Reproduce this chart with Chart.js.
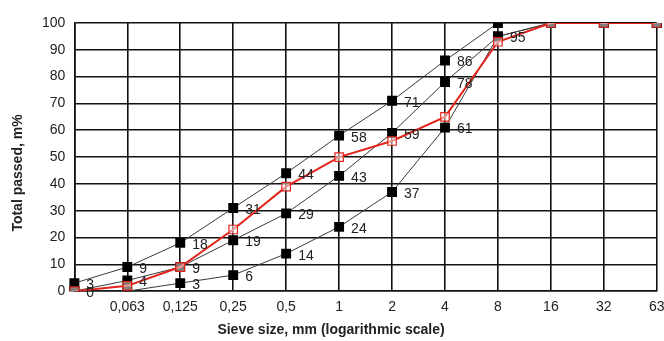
<!DOCTYPE html>
<html>
<head>
<meta charset="utf-8">
<script src="https://cdn.jsdelivr.net/npm/chart.js@4"></script>
<style>
  html, body { margin: 0; padding: 0; background: #fff; }
  #wrap { width: 664px; height: 341px; position: relative; }
</style>
</head>
<body>
<div id="wrap"><canvas id="chartCanvas"></canvas></div>
<script>
// sieve sizes, mm (first one is the pan, no label)
const sieves = ['', '0,063', '0,125', '0,25', '0,5', '1', '2', '4', '8', '16', '32', '63'];

// grading envelope, total passed %
const upperLimit = [3, 9, 18, 31, 44, 58, 71, 86, 100, 100, 100, 100];
const middleLine = [0, 4, 9, 19, 29, 43, 59, 78, 95, 100, 100, 100];
const lowerLimit = [0, 0, 3, 6, 14, 24, 37, 61, 95, 100, 100, 100];
const mixture    = [0, 2, 9, 23, 39, 50, 56, 65, 93, 100, 100, 100];

// which values get a text label next to the point
const upperLabels  = ['3', '9', '18', '31', '44', '58', '71', '86', null, null, null, null];
const middleLabels = ['0', '4', '9', '19', '29', '43', '59', '78', '95', null, null, null];
const lowerLabels  = [null, null, '3', '6', '14', '24', '37', '61', null, null, null, null];

const yTicks = [0, 10, 20, 30, 40, 50, 60, 70, 80, 90, 100];

const xTitle = 'Sieve size, mm (logarithmic scale)';
const yTitle = 'Total passed, m%';

const FONT = "'Liberation Sans', Arial, sans-serif";

// value labels right of the black points, plus the two axis titles
// (the titles in the original sit off-centre, so they are drawn by hand)
const chartText = {
    id: 'chartText',
    afterDatasetsDraw(chart) {
        const ctx = chart.ctx;
        ctx.save();
        ctx.font = '14px ' + FONT;
        ctx.fillStyle = '#222';
        ctx.textBaseline = 'middle';
        chart.data.datasets.forEach((ds, i) => {
            if (!ds.valueLabels) return;
            const meta = chart.getDatasetMeta(i);
            meta.data.forEach((pt, j) => {
                const txt = ds.valueLabels[j];
                if (txt == null) return;
                ctx.fillText(txt, pt.x + 12, pt.y + 2);
            });
        });
        ctx.restore();
    },
    afterDraw(chart) {
        const ctx = chart.ctx;
        ctx.save();
        ctx.font = 'bold 14px ' + FONT;
        ctx.fillStyle = '#222';
        ctx.textAlign = 'center';
        ctx.textBaseline = 'middle';
        ctx.fillText(xTitle, 331, 330);
        ctx.translate(18, 173);
        ctx.rotate(-Math.PI / 2);
        ctx.fillText(yTitle, 0, 0);
        ctx.restore();
    }
};

function blackSeries(data, labels) {
    return {
        data: data,
        valueLabels: labels,
        borderColor: '#3a3a3a',
        borderWidth: 1,
        pointStyle: 'rect',
        pointRadius: 7,
        pointBackgroundColor: '#000',
        pointBorderColor: '#000',
        pointBorderWidth: 0,
        tension: 0
    };
}

new Chart(document.getElementById('chartCanvas'), {
    type: 'line',
    data: {
        labels: sieves,
        datasets: [
            {
                data: mixture,
                borderColor: '#e3241b',
                borderWidth: 2,
                pointStyle: 'rect',
                pointRadius: 6,
                pointBackgroundColor: 'rgba(255,255,255,0.5)',
                pointBorderColor: '#e3241b',
                pointBorderWidth: 1.2,
                tension: 0
            },
            blackSeries(upperLimit, upperLabels),
            blackSeries(middleLine, middleLabels),
            blackSeries(lowerLimit, lowerLabels)
        ]
    },
    options: {
        responsive: true,
        maintainAspectRatio: false,
        animation: false,
        layout: { padding: { left: 33, right: 7, top: 23, bottom: 17 } },
        plugins: {
            legend: { display: false },
            tooltip: { enabled: false }
        },
        scales: {
            x: {
                type: 'category',
                offset: false,
                grid: { color: '#111', lineWidth: 1.6, drawTicks: false },
                border: { color: '#111', width: 1.6 },
                ticks: {
                    color: '#222',
                    font: { family: FONT, size: 14 },
                    padding: 8,
                    maxRotation: 0,
                    autoSkip: false
                },
                afterFit: s => { s.paddingLeft = 0; s.paddingRight = 0; }
            },
            y: {
                min: 0,
                max: 100,
                afterBuildTicks: s => { s.ticks = yTicks.map(v => ({ value: v })); },
                grid: { color: '#111', lineWidth: 1.6, drawTicks: false },
                border: { color: '#111', width: 1.6 },
                ticks: {
                    color: '#222',
                    font: { family: FONT, size: 14 },
                    padding: 9
                }
            }
        }
    },
    plugins: [chartText]
});
</script>
</body>
</html>
